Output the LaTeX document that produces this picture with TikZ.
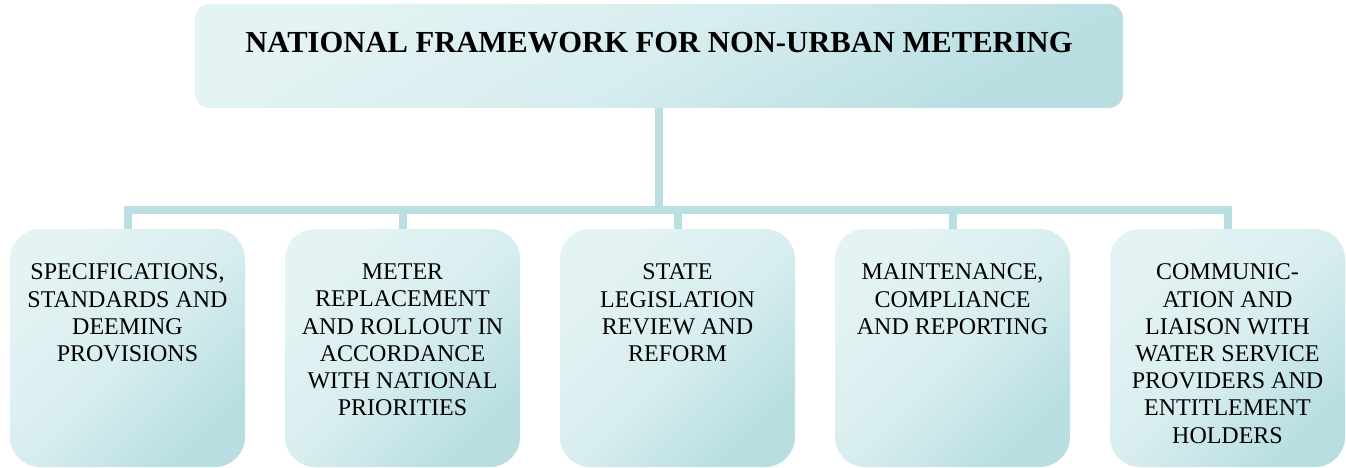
\documentclass[tikz,border=0pt]{standalone}
\usepackage{fontspec}
\setmainfont{Liberation Serif}
\usetikzlibrary{positioning}
\definecolor{aqualight}{HTML}{E4F3F4}
\definecolor{aquadark}{HTML}{B8DEE2}
\definecolor{aqualink}{HTML}{BADFE2}
\tikzset{
  headbox/.style={rounded corners=14pt, top color=aqualight, bottom color=aquadark,
    middle color=aqualight!70!aquadark, shading angle=30, minimum width=928pt,
    inner xsep=0pt, inner ysep=28pt, text height=21pt, text depth=27pt,
    font=\fontsize{30.6}{36}\selectfont\bfseries},
  areabox/.style={rounded corners=30pt, top color=aqualight, bottom color=aquadark,
    middle color=aqualight!75!aquadark, shading angle=45,
    minimum width=235pt, minimum height=238pt, inner sep=0pt},
  areatext/.style={align=center, inner sep=0pt, font=\fontsize{24}{27.2}\selectfont},
  link/.style={draw=aqualink, line width=8pt}
}
\begin{document}
\begin{tikzpicture}[x=1pt,y=-1pt]
  \useasboundingbox (0,0) rectangle (1346,468);
  \node[headbox] (head) at (659,56) {NATIONAL FRAMEWORK FOR NON-URBAN METERING};
  \foreach \i/\txt in {1/{SPECIFICATIONS,\\STANDARDS AND\\DEEMING\\PROVISIONS},
                       2/{METER\\REPLACEMENT\\AND ROLLOUT IN\\ACCORDANCE\\WITH NATIONAL\\PRIORITIES},
                       3/{STATE\\LEGISLATION\\REVIEW AND\\REFORM},
                       4/{MAINTENANCE,\\COMPLIANCE\\AND REPORTING},
                       5/{COMMUNIC-\\ATION AND\\LIAISON WITH\\WATER SERVICE\\PROVIDERS AND\\ENTITLEMENT\\HOLDERS}}{
    \node[areabox] (b\i) at ({127.5+275*(\i-1)},348) {};
    \node[areatext, below=35pt of b\i.north] (t\i) {\txt};
    \draw[link] (head.south) -- ++(0,101.5) -| (b\i.north);
  }
\end{tikzpicture}
\end{document}
